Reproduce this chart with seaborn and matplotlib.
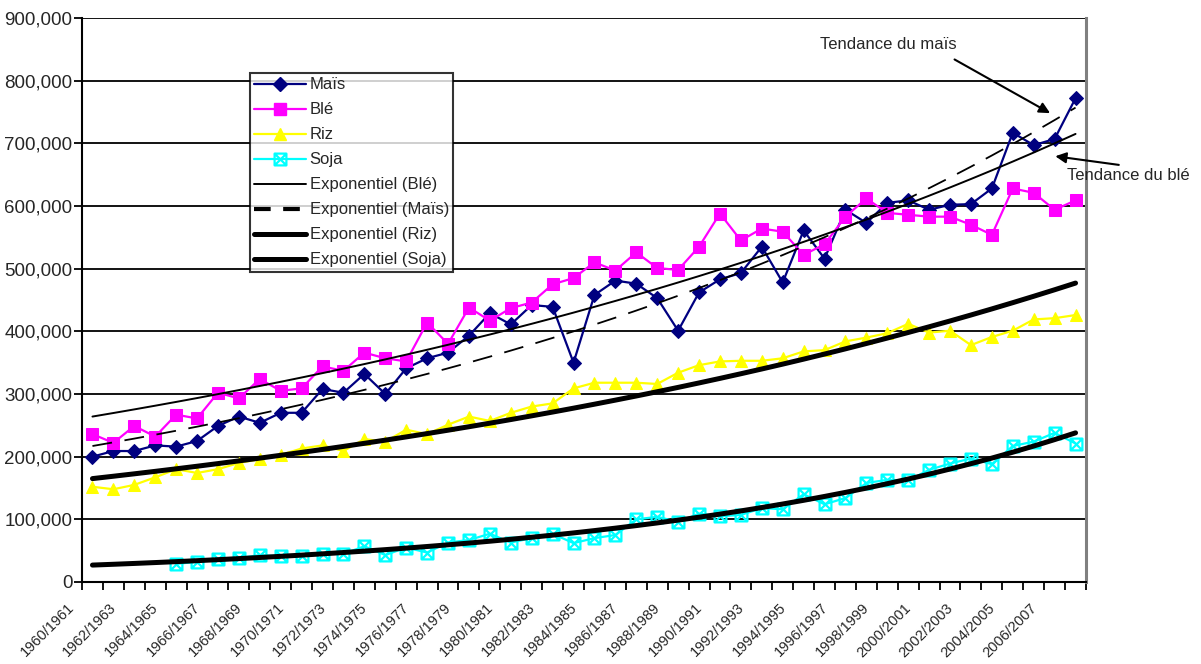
import numpy as np
import pandas as pd
import matplotlib
matplotlib.use("Agg")
import matplotlib.pyplot as plt
from matplotlib.lines import Line2D
from matplotlib.path import Path
from matplotlib.ticker import FuncFormatter
from matplotlib.transforms import ScaledTranslation
import seaborn as sns

# Campagnes agricoles 1960/1961 -> 2007/2008
campagnes = [f"{a}/{a + 1}" for a in range(1960, 2008)]

# Production mondiale (milliers de tonnes)
mais = [200000, 209000, 209000, 218000, 216000, 225000, 249000, 264000, 254000, 270000, 270000, 308000,
        302000, 332000, 300000, 341000, 357000, 366000, 393000, 429000, 411000, 442000, 439000, 350000,
        458000, 481000, 476000, 453000, 401000, 462000, 483000, 493000, 535000, 478000, 561000, 516000,
        594000, 573000, 605000, 609000, 594000, 602000, 603000, 628000, 717000, 697000, 707000, 772000]
ble = [236000, 222000, 249000, 232000, 267000, 261000, 302000, 293000, 324000, 305000, 309000, 344000,
       337000, 366000, 357000, 352000, 414000, 380000, 438000, 417000, 437000, 446000, 475000, 485000,
       510000, 497000, 526000, 501000, 498000, 535000, 588000, 545000, 564000, 559000, 522000, 539000,
       583000, 612000, 589000, 586000, 583000, 583000, 570000, 554000, 628000, 621000, 594000, 609000]
riz = [152000, 148000, 155000, 167000, 180000, 174000, 180000, 190000, 196000, 203000, 213000, 218000,
       209000, 228000, 224000, 243000, 236000, 251000, 264000, 257000, 270000, 280000, 285000, 309000,
       318000, 318000, 318000, 316000, 334000, 346000, 352000, 353000, 353000, 357000, 368000, 370000,
       384000, 390000, 397000, 412000, 398000, 401000, 378000, 391000, 401000, 419000, 421000, 426000]
soja = [np.nan, np.nan, np.nan, np.nan, 29000, 32000, 36000, 38000, 43000, 41000, 41000, 45000,
        45000, 57000, 43000, 55000, 47000, 63000, 67000, 77000, 63000, 70000, 77000, 62000,
        70000, 75000, 100000, 104000, 96000, 109000, 105000, 107000, 118000, 116000, 140000, 124000,
        134000, 158000, 163000, 162000, 179000, 189000, 197000, 188000, 217000, 224000, 238000, 221000]

# Courbes de tendance exponentielles : valeur au début et à la fin de la période
tendance_ble = (264000, 715000)
tendance_mais = (217000, 757000)
tendance_riz = (165000, 477000)
tendance_soja = (27000, 238000)

sns.set_style("white")
plt.rcParams["font.family"] = ["Liberation Sans", "DejaVu Sans"]

n = len(campagnes)
idx = np.arange(n)
df = pd.DataFrame({"i": idx, "Maïs": mais, "Blé": ble, "Riz": riz, "Soja": soja})


def tendance(debut_fin):
    debut, fin = debut_fin
    return debut * (fin / debut) ** (idx / (n - 1))


for nom, tend in [("Blé", tendance_ble), ("Maïs", tendance_mais),
                  ("Riz", tendance_riz), ("Soja", tendance_soja)]:
    df["Exponentiel (" + nom + ")"] = tendance(tend)

fig = plt.figure(figsize=(12.01, 6.64), dpi=100)
ax = fig.add_axes([82 / 1201, 1 - 582 / 664, (1086 - 82) / 1201, (582 - 18) / 664])

# Marqueur carré barré pour le soja
boite_x = Path([(-1, -1), (1, -1), (1, 1), (-1, 1), (-1, -1), (-1, -1), (1, 1), (1, -1), (-1, 1)],
               [Path.MOVETO, Path.LINETO, Path.LINETO, Path.LINETO, Path.CLOSEPOLY,
                Path.MOVETO, Path.LINETO, Path.MOVETO, Path.LINETO])

series = {
    "Maïs": dict(color="#000080", marker="D", markersize=7, markerfacecolor="#000080",
                 markeredgecolor="#000080"),
    "Blé": dict(color="#FF00FF", marker="s", markersize=9, markerfacecolor="#FF00FF",
                markeredgecolor="#FF00FF"),
    "Riz": dict(color="#FFFF00", marker="^", markersize=9, markerfacecolor="#FFFF00",
                markeredgecolor="#FFFF00"),
    "Soja": dict(color="#00FFFF", marker=boite_x, markersize=8.5, markerfacecolor="none",
                 markeredgecolor="#00FFFF", markeredgewidth=1.6),
}
for nom, style in series.items():
    sns.lineplot(data=df, x="i", y=nom, ax=ax, linewidth=1.6, zorder=3, **style)

tendances = {
    "Exponentiel (Blé)": dict(color="black", linewidth=1.4),
    "Exponentiel (Maïs)": dict(color="black", linewidth=1.3, linestyle=(0, (11, 7))),
    "Exponentiel (Riz)": dict(color="black", linewidth=3.6),
    "Exponentiel (Soja)": dict(color="black", linewidth=3.6),
}
for nom, style in tendances.items():
    sns.lineplot(data=df, x="i", y=nom, ax=ax, zorder=4, **style)

ax.set_xlim(-0.5, n - 0.5)
ax.set_ylim(0, 900000)
ax.set_xlabel("")
ax.set_ylabel("")

ax.set_yticks(np.arange(0, 900001, 100000))
ax.yaxis.set_major_formatter(FuncFormatter(lambda v, p: f"{int(v):,}"))
ax.yaxis.grid(True, color="black", linewidth=1.3)
ax.set_axisbelow(True)

ax.set_xticks(np.arange(-0.5, n, 1.0))
ax.set_xticklabels([])
ax.set_xticks(idx[::2], labels=campagnes[::2], minor=True)
ax.tick_params(axis="x", which="major", length=6, width=1.3, direction="out", color="black",
               bottom=True)
ax.tick_params(axis="x", which="minor", length=0, pad=4, labelsize=10.5, bottom=True)
ax.tick_params(axis="y", length=6, width=1.3, direction="out", color="black", left=True,
               labelsize=13.5, pad=1)
for lab in ax.get_xticklabels(minor=True):
    lab.set_rotation(45)
    lab.set_ha("right")
    lab.set_va("top")
    lab.set_transform(lab.get_transform() + ScaledTranslation(-15 / 100, -13 / 100, fig.dpi_scale_trans))

for cote in ["left", "bottom"]:
    ax.spines[cote].set_color("black")
    ax.spines[cote].set_linewidth(1.5)
ax.spines["top"].set_visible(False)
ax.spines["right"].set_color("#808080")
ax.spines["right"].set_linewidth(2.2)

poignees = [
    Line2D([], [], label="Maïs", linewidth=1.6, **series["Maïs"]),
    Line2D([], [], label="Blé", linewidth=1.6, **series["Blé"]),
    Line2D([], [], label="Riz", linewidth=1.6, **series["Riz"]),
    Line2D([], [], label="Soja", linewidth=1.6, **series["Soja"]),
]
poignees += [Line2D([], [], label=nom, **{**style, "linewidth": 3.0 if "Maïs" in nom else style["linewidth"],
                                          "linestyle": (0, (4, 3)) if "Maïs" in nom else "-"})
             for nom, style in tendances.items()]
leg = ax.legend(handles=poignees, loc="upper left", bbox_to_anchor=(0.167, 0.902),
                fontsize=12, frameon=True, fancybox=False, shadow=False,
                handlelength=3.1, handletextpad=0.25, labelspacing=0.6, borderpad=0.25,
                borderaxespad=0)
leg.get_frame().set_edgecolor("black")
leg.get_frame().set_linewidth(1.5)
leg.set_zorder(6)

fleche = dict(arrowstyle="-|>", color="black", linewidth=1.5, mutation_scale=16)
ax.text(34.8, 857000, "Tendance du maïs", fontsize=12, va="center", ha="left")
ax.annotate("", xy=(45.9, 746000), xytext=(41.1, 836000), arrowprops=fleche)
ax.text(46.6, 649000, "Tendance du blé", fontsize=12, va="center", ha="left", clip_on=False,
        zorder=7)
ax.annotate("", xy=(45.9, 680000), xytext=(49.2, 665000), arrowprops=fleche,
            annotation_clip=False)

fig.savefig("out.png", dpi=100, facecolor="white")
